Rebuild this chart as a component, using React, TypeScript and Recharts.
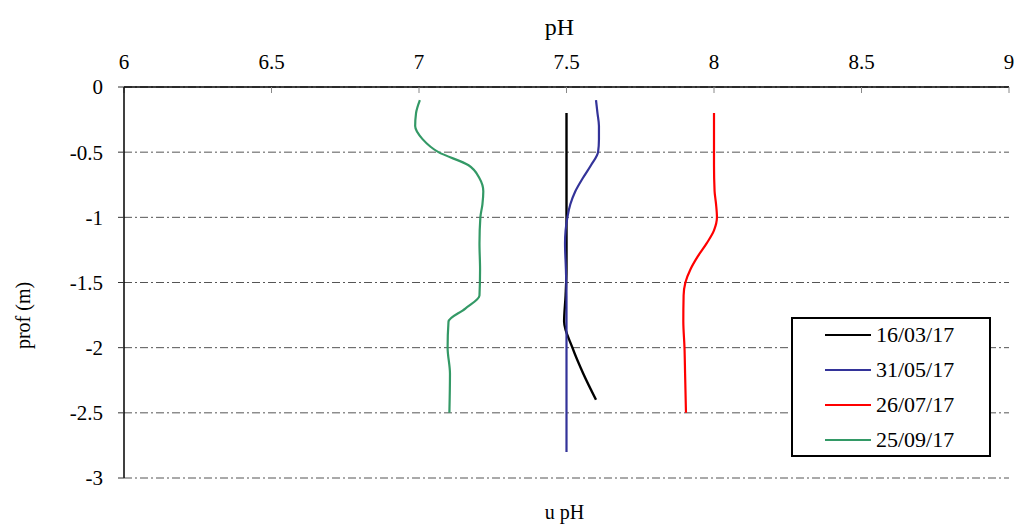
import React from "react";
import {
  ScatterChart,
  Scatter,
  XAxis,
  YAxis,
  CartesianGrid,
  Legend,
} from "recharts";

// campaign dates (legend)
const SERIES_NAMES = ["16/03/17", "31/05/17", "26/07/17", "25/09/17"];

const X_TICKS = [6, 6.5, 7, 7.5, 8, 8.5, 9];
const Y_TICKS = [0, -0.5, -1, -1.5, -2, -2.5, -3];

// 16/03/17
const depthMar = [-0.2, -0.4, -0.6, -0.8, -1.0, -1.2, -1.4, -1.6, -1.8, -2.0, -2.2, -2.4];
const phMar = [7.5, 7.5, 7.5, 7.5, 7.5, 7.5, 7.5, 7.497, 7.492, 7.52, 7.557, 7.6];

// 31/05/17
const depthMay = [
  -0.1, -0.2, -0.3, -0.4, -0.5, -0.6, -0.7, -0.8, -0.9, -1.0, -1.1, -1.2,
  -1.4, -1.6, -1.8, -2.0, -2.2, -2.4, -2.6, -2.8,
];
const phMay = [
  7.6, 7.605, 7.61, 7.61, 7.607, 7.583, 7.555, 7.53, 7.513, 7.503, 7.497, 7.495,
  7.498, 7.5, 7.5, 7.5, 7.5, 7.5, 7.5, 7.5,
];

// 26/07/17
const depthJul = [
  -0.2, -0.4, -0.6, -0.8, -0.9, -1.0, -1.1, -1.2, -1.3, -1.4, -1.5, -1.6,
  -1.8, -2.0, -2.2, -2.5,
];
const phJul = [
  8.0, 8.0, 8.0, 8.002, 8.007, 8.01, 8.0, 7.975, 7.945, 7.92, 7.903, 7.897,
  7.896, 7.9, 7.902, 7.905,
];

// 25/09/17
const depthSep = [
  -0.1, -0.2, -0.3, -0.4, -0.5, -0.6, -0.7, -0.8, -0.9, -1.0, -1.2, -1.4,
  -1.6, -1.7, -1.8, -2.0, -2.2, -2.5,
];
const phSep = [
  7.003, 6.99, 6.987, 7.012, 7.066, 7.168, 7.205, 7.218, 7.215, 7.208, 7.205,
  7.207, 7.205, 7.157, 7.1, 7.097, 7.105, 7.103,
];

const COLORS = ["#000000", "#333399", "#ff0000", "#339966"];

const toPoints = (depths: number[], phs: number[]) =>
  depths.map((d, i) => ({ depth: d, ph: phs[i] }));

const SERIES = [
  toPoints(depthMar, phMar),
  toPoints(depthMay, phMay),
  toPoints(depthJul, phJul),
  toPoints(depthSep, phSep),
];

const FONT = "'Liberation Serif', 'Times New Roman', serif";

function LegendBox({ payload }: any) {
  // keep the series order, not alphabetical
  const items = [...(payload || [])].sort(
    (a: any, b: any) => SERIES_NAMES.indexOf(a.value) - SERIES_NAMES.indexOf(b.value)
  );
  return (
    <div
      style={{
        width: 200,
        height: 140,
        boxSizing: "border-box",
        border: "2px solid #000",
        background: "#fff",
        fontFamily: FONT,
        fontSize: 22,
        color: "#000",
      }}
    >
      <div style={{ marginTop: -2 }}>
        {items.map((entry: any) => (
          <div
            key={entry.value}
            style={{ display: "flex", alignItems: "center", height: 35 }}
          >
            <span
              style={{
                display: "inline-block",
                width: 46,
                borderTop: `2px solid ${entry.color}`,
                marginLeft: 32,
                marginRight: 5,
              }}
            />
            <span style={{ lineHeight: "22px" }}>{entry.value}</span>
          </div>
        ))}
      </div>
    </div>
  );
}

export default function App() {
  return (
    <div style={{ position: "absolute", left: 0, top: 0, background: "#fff" }}>
      <ScatterChart
        width={1017}
        height={524}
        margin={{ top: 0, right: 8, bottom: 0, left: 0 }}
      >
        <CartesianGrid
          vertical={false}
          stroke="#555"
          strokeDasharray="8 3 2 3"
        />
        <XAxis
          type="number"
          dataKey="ph"
          orientation="top"
          height={87}
          domain={[6, 9]}
          ticks={X_TICKS}
          interval={0}
          axisLine={{ stroke: "#000", strokeWidth: 1.5 }}
          tickLine={{ stroke: "#888" }}
          tickSize={-6}
          tickMargin={24}
          tick={{ fill: "#000", fontSize: 21, fontFamily: FONT }}
          label={{
            content: ({ viewBox }: any) => (
              <text
                x={viewBox.x + viewBox.width / 2 - 7}
                y={35}
                textAnchor="middle"
                fontSize={24}
                fontFamily={FONT}
                fill="#000"
              >
                pH
              </text>
            ),
          }}
        />
        <XAxis
          xAxisId="bottom"
          type="number"
          orientation="bottom"
          height={46}
          domain={[6, 9]}
          axisLine={false}
          tickLine={false}
          tick={false}
          label={{
            content: ({ viewBox }: any) => (
              <text
                x={viewBox.x + viewBox.width / 2 - 2}
                y={viewBox.y + 41}
                textAnchor="middle"
                fontSize={20}
                fontFamily={FONT}
                fill="#000"
              >
                u pH
              </text>
            ),
          }}
        />
        <YAxis
          type="number"
          dataKey="depth"
          width={124}
          domain={[-3, 0]}
          ticks={Y_TICKS}
          interval={0}
          axisLine={{ stroke: "#000", strokeWidth: 1.5 }}
          tickLine={{ stroke: "#333" }}
          tickSize={6}
          tickMargin={15}
          tick={{ fill: "#000", fontSize: 21, fontFamily: FONT }}
          label={{
            content: ({ viewBox }: any) => {
              const cx = viewBox.x + 23;
              const cy = viewBox.y + viewBox.height / 2 + 33;
              return (
                <text
                  x={cx}
                  y={cy}
                  transform={`rotate(-90, ${cx}, ${cy})`}
                  textAnchor="middle"
                  dominantBaseline="central"
                  fontSize={20}
                  fontFamily={FONT}
                  fill="#000"
                >
                  prof (m)
                </text>
              );
            },
          }}
        />
        {SERIES.map((points, i) => (
          <Scatter
            key={SERIES_NAMES[i]}
            name={SERIES_NAMES[i]}
            data={points}
            fill={COLORS[i]}
            line={{ stroke: COLORS[i], strokeWidth: i === 0 ? 2.4 : 2.2 }}
            lineJointType="monotoneY"
            shape={() => <g />}
            isAnimationActive={false}
          />
        ))}
        <Legend
          layout="horizontal"
          align="center"
          verticalAlign="middle"
          itemSorter={null as any}
          content={<LegendBox />}
          wrapperStyle={{ left: 791, top: 317, width: 200, height: 140 }}
        />
      </ScatterChart>
    </div>
  );
}
